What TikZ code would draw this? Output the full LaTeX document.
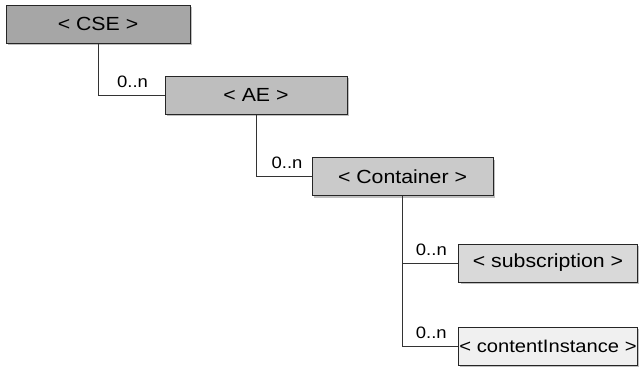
\documentclass[tikz,border=0pt]{standalone}
\usepackage{fontspec}
\setmainfont{Liberation Sans}[FakeStretch=1.12]
\usetikzlibrary{shadows}

\definecolor{cseGray}{HTML}{A6A6A6}
\definecolor{aeGray}{HTML}{BEBEBE}
\definecolor{contGray}{HTML}{CACACA}
\definecolor{subGray}{HTML}{D9D9D9}
\definecolor{ciGray}{HTML}{F0F0F0}

\tikzset{
    resbox/.style={draw=black!85, line width=1pt, minimum height=38pt, inner xsep=1pt,
        font=\fontsize{19}{21}\selectfont,
        drop shadow={shadow xshift=2pt, shadow yshift=-2pt, fill=black!25, opacity=1}},
    link/.style={draw=black!80, line width=0.8pt},
    mult/.style={font=\fontsize{16.5}{18}\selectfont, inner sep=2pt, yshift=5pt}
}

\begin{document}
\begin{tikzpicture}[x=1pt, y=-1pt]
    \useasboundingbox (0,0) rectangle (639,368);
    %\draw[dotted] (0,0) grid[step=50] (639,368);
    \node[resbox, fill=cseGray, minimum width=184pt] (cse) at (98,24) {< CSE >};
    \node[resbox, fill=aeGray, minimum width=182pt] (ae) at (256,95) {< AE >};
    \node[resbox, fill=contGray, minimum width=181pt] (cont) at (402.5,176.5) {< Container >};
    \node[resbox, fill=subGray, minimum width=179pt] (sub) at (548,263) {< subscription >};
    \node[resbox, fill=ciGray, minimum width=179pt, font=\fontsize{18}{20}\selectfont] (ci) at (548,346) {< contentInstance >};

    \draw[link] (cse.south) |- node[mult, pos=0.76, above] {0..n} (ae.west);
    \draw[link] (ae.south) |- node[mult, pos=0.78, above] {0..n} (cont.west);
    \draw[link] (cont.south) |- node[mult, pos=0.76, above] {0..n} (sub.west);
    \draw[link] (cont.south) |- node[mult, pos=0.76, above] {0..n} (ci.west);
\end{tikzpicture}
\end{document}
